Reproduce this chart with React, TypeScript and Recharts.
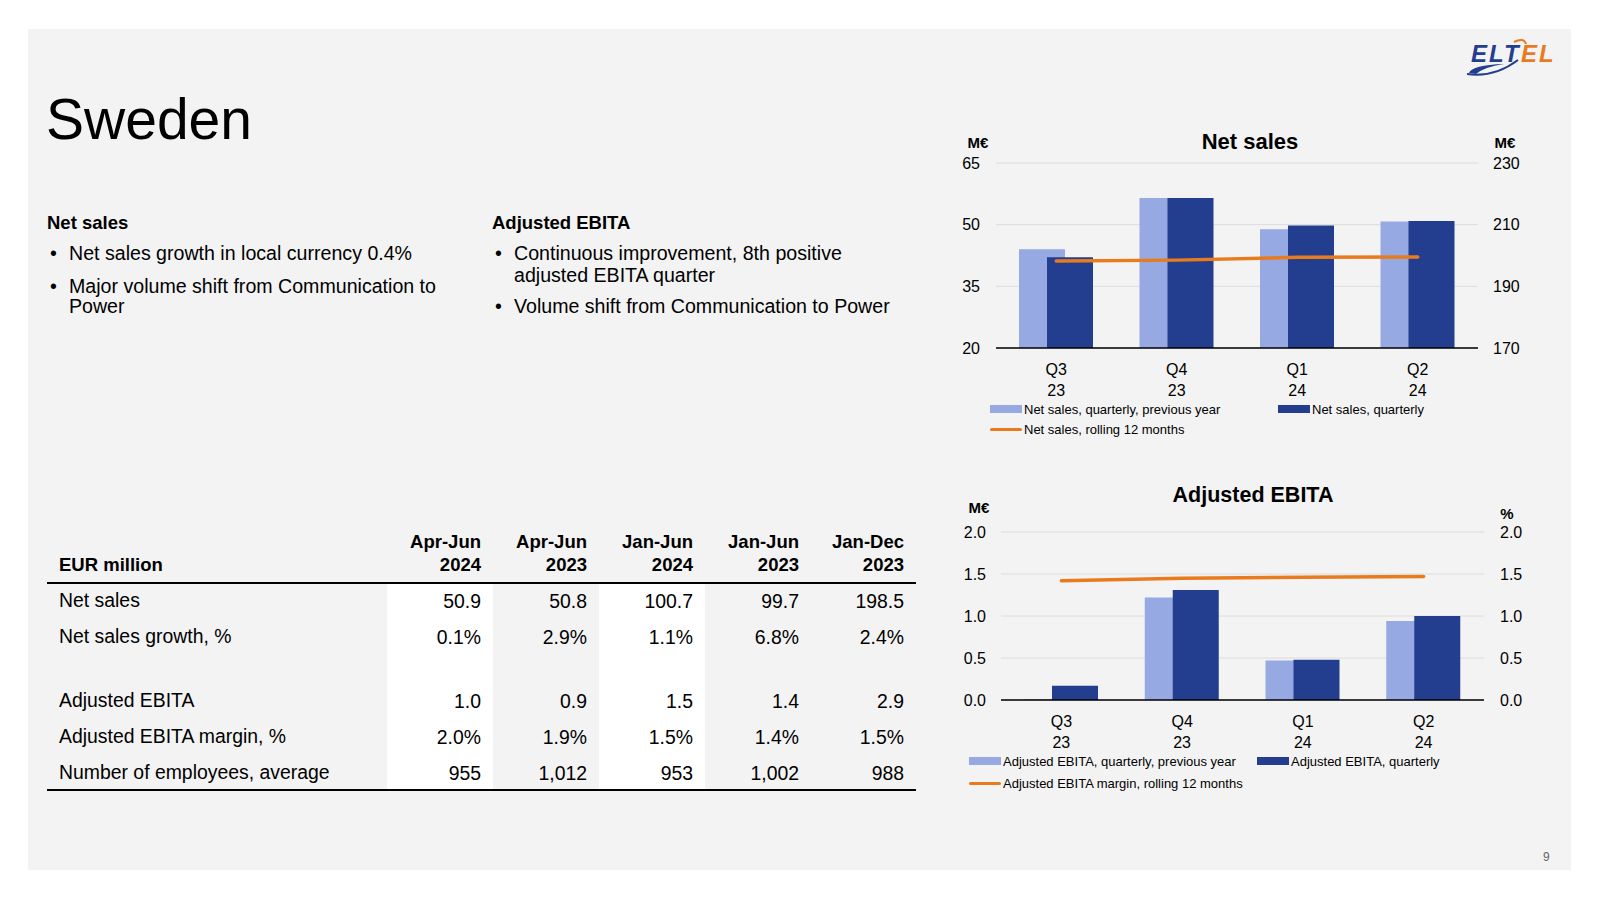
import React from 'react';
import { ComposedChart, Bar, Line, XAxis, YAxis, CartesianGrid, Legend } from 'recharts';

// ---------- data ----------
const quarters = ['Q3', 'Q4', 'Q1', 'Q2'];
const years = ['23', '23', '24', '24'];

const netSalesPrev = [44.0, 56.5, 48.9, 50.8];
const netSalesCur = [42.1, 56.5, 49.8, 50.9];
const netSalesR12 = [198.2, 198.5, 199.4, 199.5];
const netSalesLeftTicks = [20, 35, 50, 65];
const netSalesRightTicks = [170, 190, 210, 230];

const ebitaPrev = [0.01, 1.22, 0.47, 0.94];
const ebitaCur = [0.17, 1.31, 0.48, 1.0];
const ebitaMargin = [1.42, 1.45, 1.46, 1.47];
const ebitaTicks = [0, 0.5, 1.0, 1.5, 2.0];

const netSalesNames = ['Net sales, quarterly, previous year', 'Net sales, quarterly', 'Net sales, rolling 12 months'];
const ebitaNames = ['Adjusted EBITA, quarterly, previous year', 'Adjusted EBITA, quarterly', 'Adjusted EBITA margin, rolling 12 months'];

const tableHeadTop = ['Apr-Jun', 'Apr-Jun', 'Jan-Jun', 'Jan-Jun', 'Jan-Dec'];
const tableHeadBottom = ['2024', '2023', '2024', '2023', '2023'];
const tableRowLabels = ['Net sales', 'Net sales growth, %', '', 'Adjusted EBITA', 'Adjusted EBITA margin, %', 'Number of employees, average'];
const rowNetSales = ['50.9', '50.8', '100.7', '99.7', '198.5'];
const rowGrowth = ['0.1%', '2.9%', '1.1%', '6.8%', '2.4%'];
const rowEmpty = ['', '', '', '', ''];
const rowEbita = ['1.0', '0.9', '1.5', '1.4', '2.9'];
const rowMargin = ['2.0%', '1.9%', '1.5%', '1.4%', '1.5%'];
const rowEmployees = ['955', '1,012', '953', '1,002', '988'];
const tableRows = [rowNetSales, rowGrowth, rowEmpty, rowEbita, rowMargin, rowEmployees];

// ---------- styles ----------
const FONT = '"Liberation Sans", Arial, sans-serif';
const BLUE_LIGHT = '#97A9E3';
const BLUE_DARK = '#233E8E';
const ORANGE = '#E97B1F';
const GRID = '#dcdcdc';

const netSalesData = quarters.map((q, i) => ({
  name: `${q} ${years[i]}`,
  prev: netSalesPrev[i],
  cur: netSalesCur[i],
  line: netSalesR12[i],
}));
const ebitaData = quarters.map((q, i) => ({
  name: `${q} ${years[i]}`,
  prev: ebitaPrev[i],
  cur: ebitaCur[i],
  line: ebitaMargin[i],
}));

const QuarterTick = (props: any) => {
  const { x, y, payload } = props;
  const [q, yr] = String(payload.value).split(' ');
  return (
    <g>
      <text x={x} y={y + 27} textAnchor="middle" fontSize={16} fill="#000" fontFamily={FONT}>{q}</text>
      <text x={x} y={y + 48} textAnchor="middle" fontSize={16} fill="#000" fontFamily={FONT}>{yr}</text>
    </g>
  );
};

const makeLegend = (pos: Record<string, [number, number]>) => (props: any) => {
  const { payload } = props;
  return (
    <div style={{ position: 'relative', width: 620, height: 330 }}>
      {(payload || []).map((entry: any) => {
        const p = pos[entry.dataKey as string];
        if (!p) return null;
        const isLine = entry.type === 'line';
        return (
          <div key={String(entry.dataKey)} style={{ position: 'absolute', left: p[0], top: p[1] - 9, height: 18, display: 'flex', alignItems: 'center', whiteSpace: 'nowrap' }}>
            <div style={{ width: 32, height: isLine ? 3 : 8, background: entry.color, borderRadius: isLine ? 2 : 0 }} />
            <span style={{ marginLeft: 2, fontSize: 13, color: '#000', fontFamily: FONT }}>{entry.value}</span>
          </div>
        );
      })}
    </div>
  );
};

const txt = (s: string, left: number, cy: number, size: number, bold = false, extra: any = {}) => (
  <div style={{ position: 'absolute', left, top: cy - size * 0.6, lineHeight: `${size * 1.2}px`, fontSize: size, fontWeight: bold ? 700 : 400, whiteSpace: 'nowrap', color: '#000', ...extra }}>{s}</div>
);

const colRight = [481, 587, 693, 799, 904];
const rowY = [601, 637, 669, 701, 737, 773];
const BODY = 19.6;
const CELL = 19.4;

export default function App() {
  return (
    <div style={{ position: 'absolute', left: 0, top: 0, width: 1600, height: 900, background: '#fff', fontFamily: FONT, overflow: 'hidden' }}>
      <div style={{ position: 'absolute', left: 28, top: 29, width: 1543, height: 841, background: '#f3f3f3' }} />

      {/* logo */}
      <svg style={{ position: 'absolute', left: 1462, top: 34 }} width={100} height={44}>
        <text x={9} y={28} fontSize={24} fontWeight={700} fontStyle="italic" fill={BLUE_DARK} letterSpacing={2} fontFamily={FONT}>ELT</text>
        <text x={59} y={28} fontSize={24} fontWeight={700} fontStyle="italic" fill={ORANGE} letterSpacing={2} fontFamily={FONT}>EL</text>
        <path d="M7 39 Q 10 31 42 30 Q 22 33 14 40 Z" fill={BLUE_DARK} />
        <path d="M5 40 Q 32 44 56 26" stroke={BLUE_DARK} strokeWidth={2} fill="none" />
        <path d="M52 8 Q 62 3 64 10" stroke={ORANGE} strokeWidth={2} fill="none" />
      </svg>

      {/* title */}
      {txt('Sweden', 46, 119, 57)}

      {/* text blocks */}
      {txt('Net sales', 47, 223, 18.5, true)}
      {txt('•', 50, 254, BODY)}
      {txt('Net sales growth in local currency 0.4%', 69, 254, BODY)}
      {txt('•', 50, 286.5, BODY)}
      {txt('Major volume shift from Communication to', 69, 286.5, BODY)}
      {txt('Power', 69, 307, BODY)}

      {txt('Adjusted EBITA', 492, 223, 18.5, true)}
      {txt('•', 495, 254, BODY)}
      {txt('Continuous improvement, 8th positive', 514, 254, BODY)}
      {txt('adjusted EBITA quarter', 514, 276, BODY)}
      {txt('•', 495, 307, BODY)}
      {txt('Volume shift from Communication to Power', 514, 307, BODY)}

      {/* table */}
      <div style={{ position: 'absolute', left: 387, top: 584, width: 106, height: 206, background: '#fff' }} />
      <div style={{ position: 'absolute', left: 599, top: 584, width: 106, height: 206, background: '#fff' }} />
      {txt('EUR million', 59, 565, 18.5, true)}
      {tableHeadTop.map((h, i) => (
        <div key={'ht' + i} style={{ position: 'absolute', right: 1600 - colRight[i], top: 542 - 11, lineHeight: '22px', fontSize: 18.5, fontWeight: 700, whiteSpace: 'nowrap' }}>{h}</div>
      ))}
      {tableHeadBottom.map((h, i) => (
        <div key={'hb' + i} style={{ position: 'absolute', right: 1600 - colRight[i], top: 565 - 11, lineHeight: '22px', fontSize: 18.5, fontWeight: 700, whiteSpace: 'nowrap' }}>{h}</div>
      ))}
      <div style={{ position: 'absolute', left: 47, top: 582, width: 869, height: 2, background: '#000' }} />
      {tableRowLabels.map((l, r) => (l ? <React.Fragment key={'rl' + r}>{txt(l, 59, rowY[r], CELL)}</React.Fragment> : null))}
      {tableRows.map((row, r) =>
        row.map((v, c) =>
          v ? (
            <div key={`c${r}_${c}`} style={{ position: 'absolute', right: 1600 - colRight[c], top: rowY[r] - 11.5, lineHeight: '23px', fontSize: CELL, whiteSpace: 'nowrap' }}>{v}</div>
          ) : null
        )
      )}
      <div style={{ position: 'absolute', left: 47, top: 789, width: 869, height: 2, background: '#000' }} />

      {/* Net sales chart */}
      <div style={{ position: 'absolute', left: 1250 - 150, top: 142 - 13, width: 300, textAlign: 'center', fontSize: 22, fontWeight: 700, lineHeight: '26px' }}>Net sales</div>
      <div style={{ position: 'absolute', left: 978 - 20, top: 143 - 9, width: 40, textAlign: 'center', fontSize: 15, fontWeight: 700, lineHeight: '18px' }}>M€</div>
      <div style={{ position: 'absolute', left: 1505 - 20, top: 143 - 9, width: 40, textAlign: 'center', fontSize: 15, fontWeight: 700, lineHeight: '18px' }}>M€</div>
      <div style={{ position: 'absolute', left: 930, top: 120 }}>
        <ComposedChart width={620} height={330} data={netSalesData} margin={{ top: 43, right: 0, bottom: 52, left: 0 }} barSize={46} barGap={-18}>
          <CartesianGrid yAxisId="left" vertical={false} stroke={GRID} strokeWidth={1} />
          <XAxis dataKey="name" height={50} tickSize={0} tickMargin={0} tickLine={false} axisLine={{ stroke: '#000', strokeWidth: 1.5 }} tick={<QuarterTick />} interval={0} />
          <YAxis yAxisId="left" orientation="left" width={66} domain={[20, 65]} ticks={netSalesLeftTicks} axisLine={false} tickLine={false} tickSize={0} tickMargin={16} tick={{ fontSize: 16, fill: '#000' }} />
          <YAxis yAxisId="right" orientation="right" width={72} domain={[170, 230]} ticks={netSalesRightTicks} axisLine={false} tickLine={false} tickSize={0} tickMargin={15} tick={{ fontSize: 16, fill: '#000', textAnchor: 'start' }} />
          <Bar yAxisId="left" dataKey="prev" name={netSalesNames[0]} fill={BLUE_LIGHT} isAnimationActive={false} />
          <Bar yAxisId="left" dataKey="cur" name={netSalesNames[1]} fill={BLUE_DARK} isAnimationActive={false} />
          <Line yAxisId="right" dataKey="line" name={netSalesNames[2]} stroke={ORANGE} strokeWidth={3.5} dot={false} activeDot={false} strokeLinecap="round" type="linear" isAnimationActive={false} />
          <Legend verticalAlign="middle" align="center" layout="horizontal" wrapperStyle={{ top: 0, left: 0, width: 620, height: 330 }}
            content={makeLegend({ prev: [60, 289], cur: [348, 289], line: [60, 309] })} />
        </ComposedChart>
      </div>

      {/* Adjusted EBITA chart */}
      <div style={{ position: 'absolute', left: 1253 - 150, top: 495 - 13, width: 300, textAlign: 'center', fontSize: 21.5, fontWeight: 700, lineHeight: '26px' }}>Adjusted EBITA</div>
      <div style={{ position: 'absolute', left: 979 - 20, top: 508 - 9, width: 40, textAlign: 'center', fontSize: 15, fontWeight: 700, lineHeight: '18px' }}>M€</div>
      <div style={{ position: 'absolute', left: 1507 - 20, top: 514 - 9, width: 40, textAlign: 'center', fontSize: 15, fontWeight: 700, lineHeight: '18px' }}>%</div>
      <div style={{ position: 'absolute', left: 930, top: 480 }}>
        <ComposedChart width={620} height={320} data={ebitaData} margin={{ top: 52, right: 0, bottom: 50, left: 0 }} barSize={46} barGap={-18}>
          <CartesianGrid yAxisId="left" vertical={false} stroke={GRID} strokeWidth={1} />
          <XAxis dataKey="name" height={50} tickSize={0} tickMargin={0} tickLine={false} axisLine={{ stroke: '#000', strokeWidth: 1.5 }} tick={<QuarterTick />} interval={0} />
          <YAxis yAxisId="left" orientation="left" width={71} domain={[0, 2]} ticks={ebitaTicks} tickFormatter={(v: number) => v.toFixed(1)} axisLine={false} tickLine={false} tickSize={0} tickMargin={15} tick={{ fontSize: 16, fill: '#000' }} />
          <YAxis yAxisId="right" orientation="right" width={66} domain={[0, 2]} ticks={ebitaTicks} tickFormatter={(v: number) => v.toFixed(1)} axisLine={false} tickLine={false} tickSize={0} tickMargin={16} tick={{ fontSize: 16, fill: '#000', textAnchor: 'start' }} />
          <Bar yAxisId="left" dataKey="prev" name={ebitaNames[0]} fill={BLUE_LIGHT} isAnimationActive={false} />
          <Bar yAxisId="left" dataKey="cur" name={ebitaNames[1]} fill={BLUE_DARK} isAnimationActive={false} />
          <Line yAxisId="right" dataKey="line" name={ebitaNames[2]} stroke={ORANGE} strokeWidth={3.5} dot={false} activeDot={false} strokeLinecap="round" type="linear" isAnimationActive={false} />
          <Legend verticalAlign="middle" align="center" layout="horizontal" wrapperStyle={{ top: 0, left: 0, width: 620, height: 320 }}
            content={makeLegend({ prev: [39, 281], cur: [327, 281], line: [39, 303] })} />
        </ComposedChart>
      </div>

      {/* page number */}
      <div style={{ position: 'absolute', left: 1543, top: 850, fontSize: 12, color: '#666', lineHeight: '14px' }}>9</div>
    </div>
  );
}
